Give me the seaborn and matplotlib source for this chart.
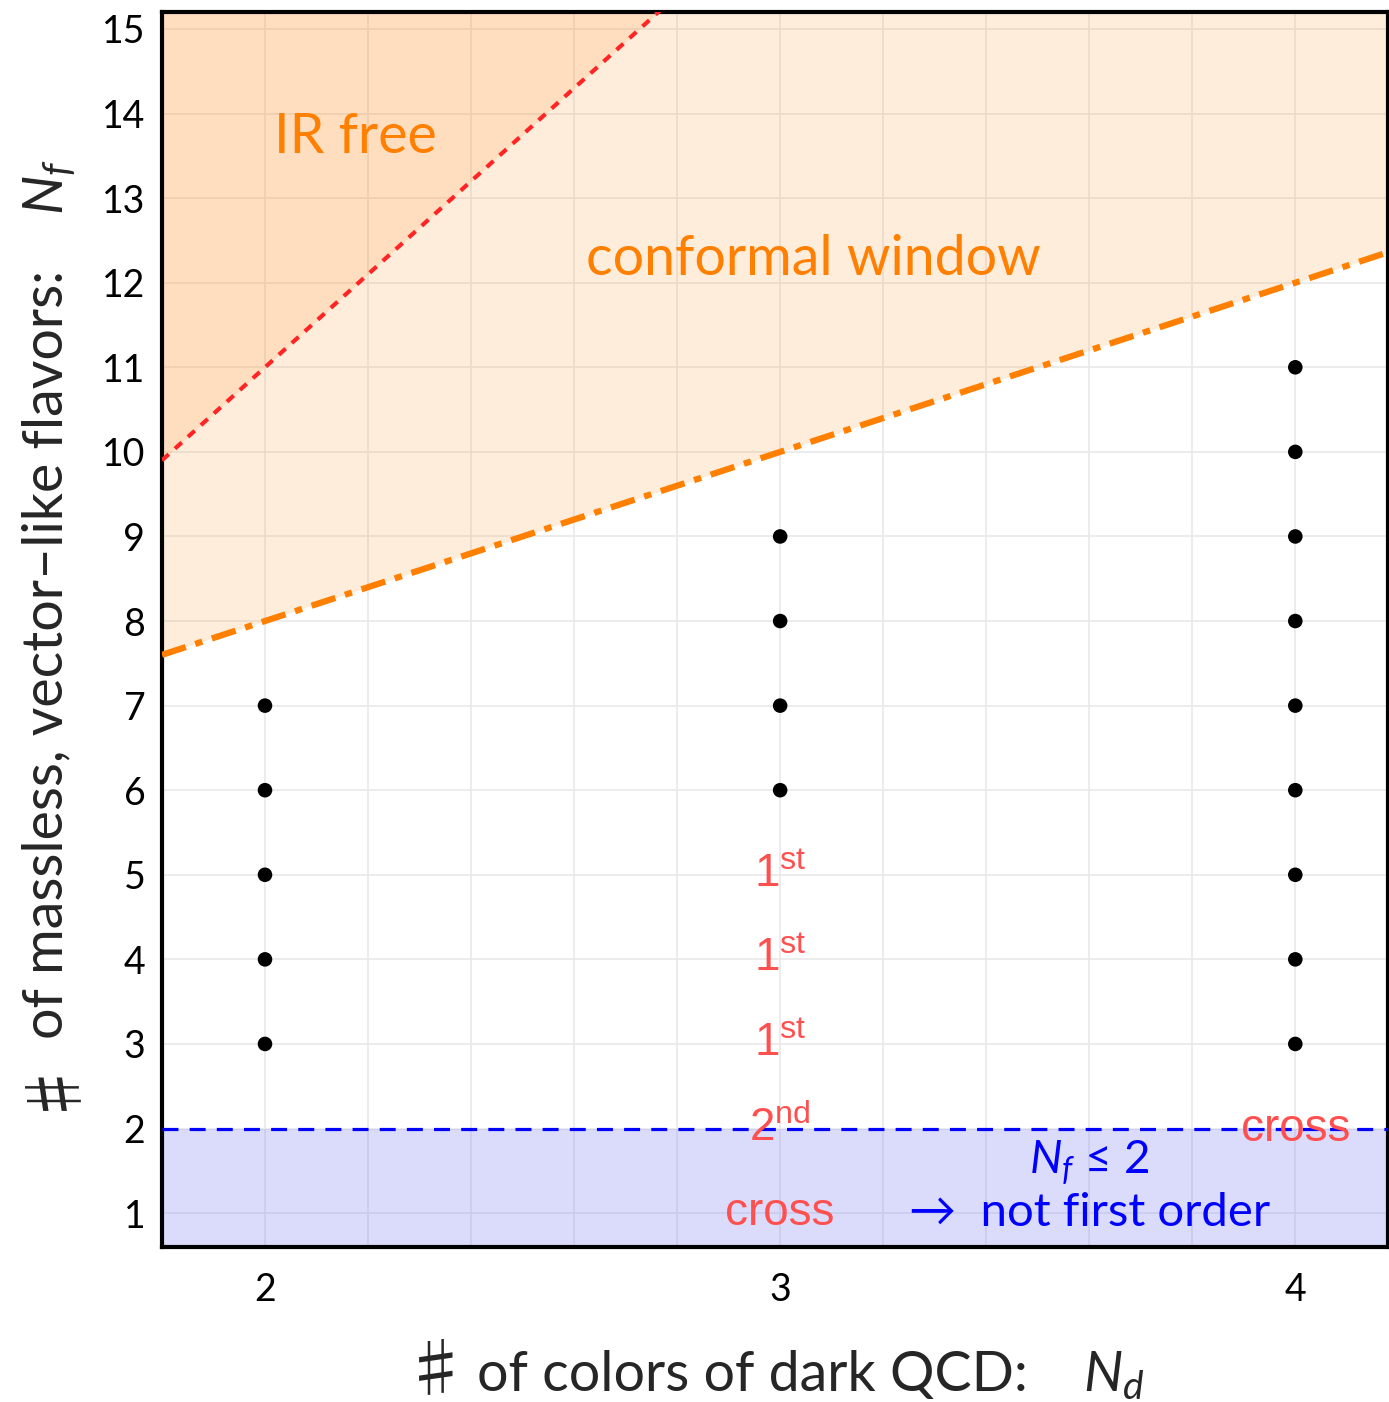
import numpy as np
import pandas as pd
import matplotlib
matplotlib.use("Agg")
import matplotlib.pyplot as plt
import seaborn as sns

# Lattice points (N_d, N_f)
nd_points = [2, 2, 2, 2, 2,
             3, 3, 3, 3,
             4, 4, 4, 4, 4, 4, 4, 4, 4]
nf_points = [3, 4, 5, 6, 7,
             6, 7, 8, 9,
             3, 4, 5, 6, 7, 8, 9, 10, 11]

# Boundary lines
nd_line = [1.8, 4.18]
nf_ir_free = [9.9, 22.99]        # N_f = 11/2 N_d
nf_conformal = [7.6, 12.36]      # N_f = 2 N_d + 4
nf_low = 2

# Phase-transition annotations
order_x = [3, 3, 3, 3, 3, 4]
order_y = [5, 4, 3, 2, 1, 2]
order_txt = [r"$1^{\mathrm{st}}$", r"$1^{\mathrm{st}}$", r"$1^{\mathrm{st}}$",
             r"$2^{\mathrm{nd}}$", "cross", "cross"]

x_ticks = [2, 3, 4]
y_ticks = list(range(1, 16))

sns.set_theme(style="white")
plt.rcParams["font.family"] = ["Lato", "DejaVu Sans"]
plt.rcParams["mathtext.fontset"] = "custom"
plt.rcParams["mathtext.rm"] = "Liberation Sans"
plt.rcParams["mathtext.it"] = "Lato:italic"
plt.rcParams["mathtext.sf"] = "Lato"

W, H = 1389, 1402
fig = plt.figure(figsize=(W / 100, H / 100), dpi=100)
ax = fig.add_axes([0.1166, 0.1106, 0.8827, 0.8808])

xmin, xmax = 1.8, 4.18
ymin, ymax = 0.6, 15.2
ax.set_xlim(xmin, xmax)
ax.set_ylim(ymin, ymax)

# Grid
for gx in np.arange(2.0, 4.19, 0.2):
    ax.axvline(gx, color="#e9e9e9", lw=1.2, zorder=0.5)
for gy in y_ticks:
    ax.axhline(gy, color="#e9e9e9", lw=1.2, zorder=0.5)

xs = np.array(nd_line)
# conformal window + IR free regions
ax.fill_between(xs, nf_conformal, ymax, color="#ff8c1a", alpha=0.15, lw=0, zorder=1)
ax.fill_between(xs, nf_ir_free, ymax, color="#ff8c1a", alpha=0.15, lw=0, zorder=1)
# N_f <= 2 region
ax.fill_between(xs, ymin, nf_low, color="#8080f5", alpha=0.28, lw=0, zorder=1)

lines = pd.DataFrame({"nd": nd_line, "ir": nf_ir_free, "cw": nf_conformal})
sns.lineplot(data=lines, x="nd", y="ir", ax=ax, color="#ff2525", lw=3,
             linestyle=(0, (2.2, 2.0)), zorder=3)
sns.lineplot(data=lines, x="nd", y="cw", ax=ax, color="#ff8000", lw=4.5,
             linestyle=(0, (4, 1.6, 1.2, 1.6)), zorder=3)
ax.axhline(nf_low, color="#0000ff", lw=2.3, linestyle=(0, (5, 3.5)), zorder=3)

pts = pd.DataFrame({"nd": nd_points, "nf": nf_points})
sns.scatterplot(data=pts, x="nd", y="nf", ax=ax, color="black", s=110,
                edgecolor="none", zorder=4)

for x, y, t in zip(order_x, order_y, order_txt):
    ax.text(x, y, t, color="#ff5050", fontsize=33, ha="center", va="center",
            family=["Liberation Sans", "DejaVu Sans"], zorder=5)

ax.text(2.175, 13.72, "IR free", color="#ff8000", fontsize=40, ha="center", va="center")
ax.text(3.065, 12.27, "conformal window", color="#ff8000", fontsize=40,
        ha="center", va="center")
ax.text(3.6, 1.6, r"$N_f$ ≤ 2", color="#0000ff", fontsize=33, ha="center", va="center")
ax.text(3.6, 1.0, "→  not first order", color="#0000ff", fontsize=34,
        ha="center", va="center")

ax.set_xticks(x_ticks)
ax.set_yticks(y_ticks)
ax.tick_params(axis="both", direction="in", length=15, width=3, labelsize=27,
               colors="black")
ax.tick_params(axis="x", pad=18)
ax.tick_params(axis="y", pad=12)
for side in ["left", "bottom", "top", "right"]:
    ax.spines[side].set_linewidth(3)
    ax.spines[side].set_color("black")
ax.set_xlabel("")
ax.set_ylabel("")

# Axis titles: sharp sign, words, and the math symbol as separate pieces
lab_fs = 40
sharp_fs = 46
sharp_fam = ["Noto Sans CJK JP", "DejaVu Sans"]
fig.text(404 / W, 1 - 1391 / H, "♯", fontsize=sharp_fs, ha="left",
         va="baseline", family=sharp_fam)
fig.text(1028 / W, 1 - 1391 / H, "of colors of dark QCD:", fontsize=lab_fs,
         ha="right", va="baseline")
fig.text(1083 / W, 1 - 1391 / H, r"$N_d$", fontsize=lab_fs, ha="left", va="baseline")

fig.text(63 / W, 1 - 1110 / H, "♯", fontsize=sharp_fs, rotation=90,
         rotation_mode="anchor", ha="left", va="baseline", family=sharp_fam)
fig.text(62 / W, 1 - 270 / H, "of massless, vector–like flavors:", fontsize=lab_fs,
         rotation=90, rotation_mode="anchor", ha="right", va="baseline")
fig.text(62 / W, 1 - 215 / H, r"$N_f$", fontsize=lab_fs, rotation=90,
         rotation_mode="anchor", ha="left", va="baseline")

fig.savefig("out.png", dpi=100)
